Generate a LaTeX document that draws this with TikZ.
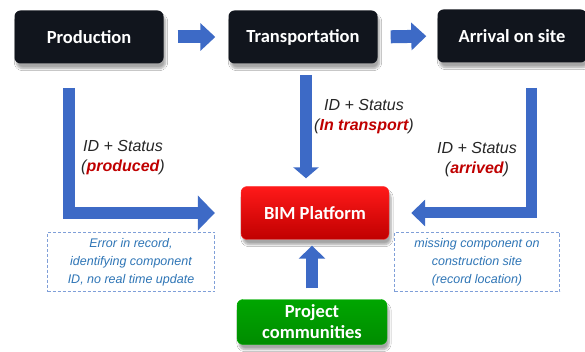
\documentclass[tikz,border=0pt]{standalone}
\usepackage{fontspec}
\setmainfont{Liberation Sans}
\newfontfamily\boxfont{Carlito}
\usepackage{tikz}
\usetikzlibrary{arrows.meta, positioning, shadows.blur}

\definecolor{stepblack}{HTML}{11151D}
\definecolor{flowblue}{HTML}{3D6AC6}
\definecolor{noteblue}{HTML}{2E75B6}
\definecolor{dashblue}{HTML}{7F9FD8}
\definecolor{statusred}{HTML}{C00000}
\definecolor{textgray}{HTML}{262626}

\begin{document}
\begin{tikzpicture}[
  x=1pt, y=-1pt,
  stagebox/.style={rounded corners=6pt, minimum width=149pt, minimum height=53pt,
    text=white, font=\boxfont\bfseries\fontsize{18.5}{20}\selectfont,
    blur shadow={shadow xshift=2pt, shadow yshift=-5pt, shadow blur steps=6, shadow opacity=35}},
  blackbox/.style={stagebox, fill=stepblack},
  platformbox/.style={stagebox, top color=red!90!white, bottom color=statusred, draw=red!80!white},
  communitybox/.style={stagebox, minimum width=150pt, minimum height=45pt,
    top color=green!65!black, bottom color=green!55!black, draw=green!70!black,
    font=\boxfont\bfseries\fontsize{18.5}{21}\selectfont, align=center},
  statuslabel/.style={font=\itshape\fontsize{16}{20}\selectfont, text=textgray, align=center, inner sep=1pt},
  notebox/.style={draw=dashblue, dash pattern=on 3pt off 2pt, semithick, text=noteblue, align=center,
    font=\itshape\fontsize{12.5}{18}\selectfont},
  flow/.style={draw=flowblue, line width=13pt},
  >=Latex
]
  %------------------------------------------------------------
  %  FRAME
  %------------------------------------------------------------
  \useasboundingbox[fill=white] (0,0) rectangle (585,352);

  %------------------------------------------------------------
  %  TOP ROW:  production, transportation, arrival
  %------------------------------------------------------------
  \node[blackbox] (Prod)  at (89,37)  {Production};
  \node[blackbox] (Trans) at (303,37) {Transportation};
  \node[blackbox] (Arriv) at (512,36) {Arrival on site};

  %------------------------------------------------------------
  %  PLATFORM AND COMMUNITIES
  %------------------------------------------------------------
  \node[platformbox, minimum width=148pt] (BIM) at (315,213) {BIM Platform};
  \node[communitybox] (Comm) at (312,322) {Project\\communities};

  %------------------------------------------------------------
  %  START POINTS OF THE STATUS ARROWS
  %------------------------------------------------------------
  \coordinate (pS) at (69,88);
  \coordinate (tS) at (306,75);
  \coordinate (aS) at (531,88);

  %------------------------------------------------------------
  %  ARROWS
  %------------------------------------------------------------
  \draw[flow, -{Triangle[width=27pt,length=15pt]}, shorten <=14pt, shorten >=13pt]
    (Prod.east) -- (Trans.west);
  \draw[flow, -{Triangle[width=27pt,length=15pt]}, shorten <=13pt, shorten >=11pt]
    (Trans.east) -- (Arriv.west);

  \draw[flow, line width=12pt, -{Triangle[width=34pt,length=17pt]}, shorten >=26pt]
    (pS) |- (BIM.west);
  \draw[flow, line width=12pt, -{Triangle[width=25pt,length=11pt]}, shorten >=8pt]
    (tS) -- (tS |- BIM.north);
  \draw[flow, line width=11pt, -{Triangle[width=26pt,length=14pt]}, shorten >=22pt]
    (aS) |- (BIM.east);
  \draw[flow, line width=12pt, -{Triangle[width=26pt,length=13pt]}, shorten <=11pt, shorten >=6pt]
    (Comm.north) -- (Comm.north |- BIM.south);

  %------------------------------------------------------------
  %  STATUS LABELS
  %------------------------------------------------------------
  \node[statuslabel] (lProd)  at (123,158) {ID + Status\\(\textcolor{statusred}{\bfseries produced})};
  \node[statuslabel] (lTrans) at (364,117) {ID + Status\\(\textcolor{statusred}{\bfseries In transport})};
  \node[statuslabel] (lArriv) at (477,160) {ID + Status\\(\textcolor{statusred}{\bfseries arrived})};

  %------------------------------------------------------------
  %  NOTES
  %------------------------------------------------------------
  \node[notebox, minimum width=167pt, minimum height=59pt] (nProd) at (131,262)
    {Error in record,\\identifying component\\ID, no real time update};
  \node[notebox, minimum width=165pt, minimum height=59pt] (nArriv) at (477,262)
    {missing component on\\construction site\\(record location)};

\end{tikzpicture}
\end{document}
